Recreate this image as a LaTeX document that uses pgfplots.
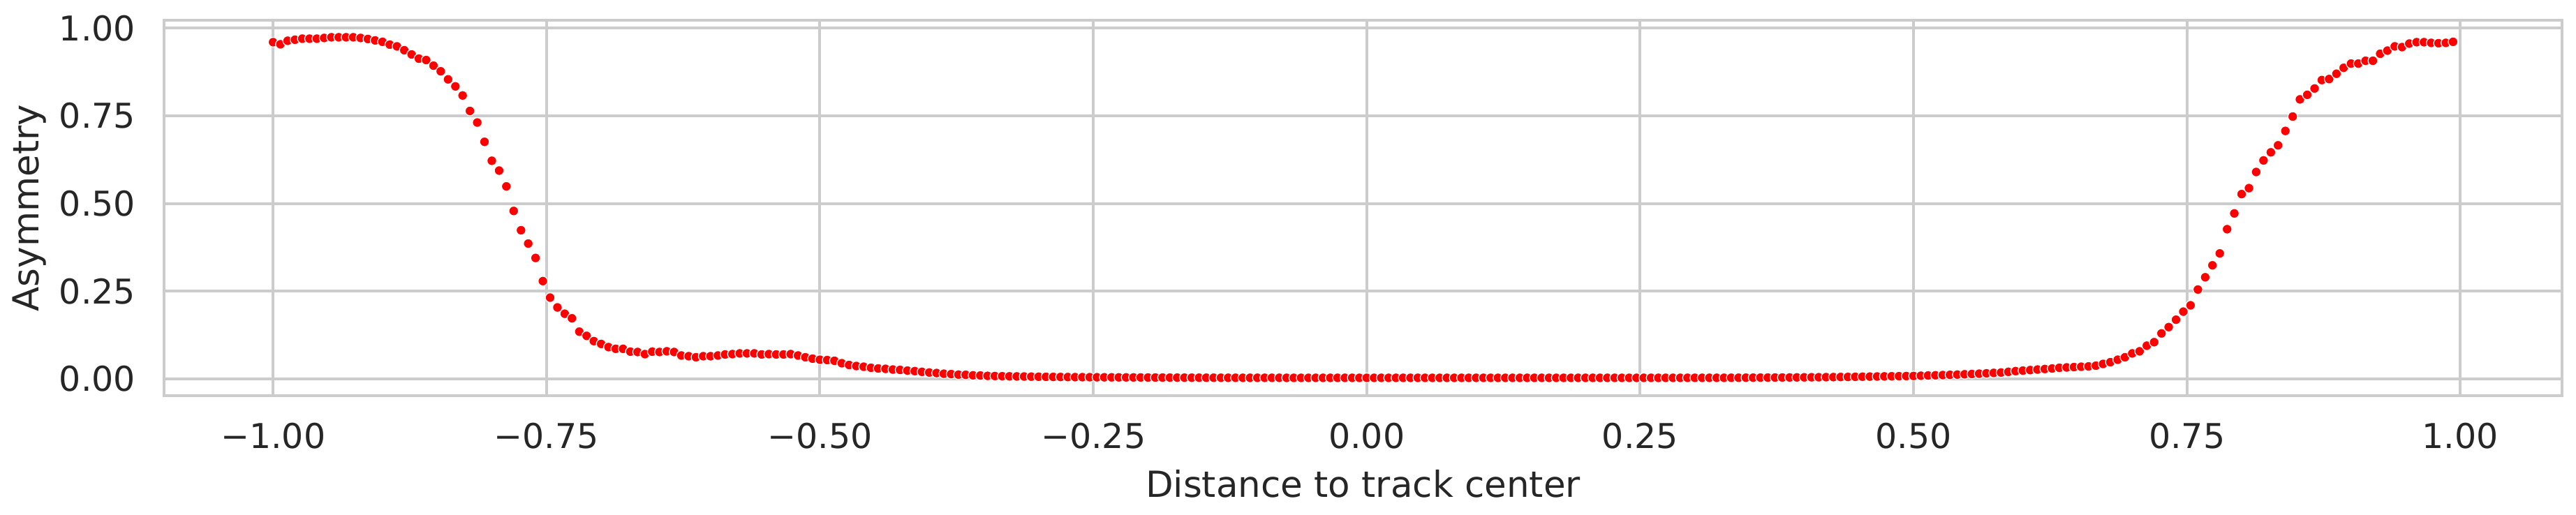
\documentclass[border=0pt]{standalone}
\usepackage{pgfplots}
\pgfplotsset{compat=1.18}
\usetikzlibrary{calc}
\usepackage{fontspec}
\setmainfont{DejaVu Sans}
\definecolor{gridc}{RGB}{204,204,204}
\definecolor{txt}{RGB}{38,38,38}
\begin{document}
\begin{tikzpicture}
\begin{axis}[
  name=ax,
  scale only axis,
  width=687pt, height=107.58pt,
  xmin=-1.0997, xmax=1.0930,
  ymin=-0.0479, ymax=1.0219,
  xtick={-1,-0.75,-0.5,-0.25,0,0.25,0.5,0.75,1},
  xticklabels={−1.00,−0.75,−0.50,−0.25,0.00,0.25,0.50,0.75,1.00},
  ytick={0,0.25,0.5,0.75,1},
  yticklabels={0.00,0.25,0.50,0.75,1.00},
  major tick length=0pt,
  grid=major,
  major grid style={draw=gridc, line width=0.8pt},
  axis line style={draw=gridc, line width=0.8pt},
  tick style={draw=none},
  xticklabel style={font=\fontsize{9.8}{11.8}\selectfont, text=txt, inner sep=0pt, anchor=north, yshift=-7.56pt},
  yticklabel style={font=\fontsize{9.8}{11.8}\selectfont, text=txt, inner sep=0pt, anchor=east, xshift=-8pt},
  xlabel={Distance to track center},
  ylabel={Asymmetry},
  xlabel style={font=\fontsize{10.3}{12.4}\selectfont, text=txt, at={(axis description cs:0.5,-0.271)}, anchor=base, inner sep=0pt},
  ylabel style={font=\fontsize{10.3}{12.4}\selectfont, text=txt, at={(axis description cs:-0.0524,0.5)}, anchor=base, inner sep=0pt},
]
\addplot[only marks, mark=*, mark size=1.38pt, mark options={fill=red, draw=white, line width=0.25pt}] coordinates {
(-1.0000,0.960) (-0.9933,0.954) (-0.9867,0.964)
(-0.9800,0.967) (-0.9733,0.970) (-0.9667,0.970)
(-0.9600,0.970) (-0.9533,0.972) (-0.9467,0.974)
(-0.9400,0.974) (-0.9333,0.974) (-0.9267,0.974)
(-0.9200,0.972) (-0.9133,0.969) (-0.9067,0.965)
(-0.9000,0.961) (-0.8933,0.953) (-0.8867,0.948)
(-0.8800,0.937) (-0.8733,0.925) (-0.8667,0.913)
(-0.8600,0.909) (-0.8533,0.893) (-0.8467,0.877)
(-0.8400,0.854) (-0.8333,0.834) (-0.8267,0.808)
(-0.8200,0.764) (-0.8133,0.731) (-0.8067,0.676)
(-0.8000,0.622) (-0.7933,0.594) (-0.7867,0.549)
(-0.7800,0.479) (-0.7733,0.424) (-0.7667,0.386)
(-0.7600,0.345) (-0.7533,0.279) (-0.7467,0.232)
(-0.7400,0.204) (-0.7333,0.186) (-0.7267,0.173)
(-0.7200,0.135) (-0.7133,0.123) (-0.7067,0.108)
(-0.7000,0.100) (-0.6933,0.091) (-0.6867,0.086)
(-0.6800,0.086) (-0.6733,0.078) (-0.6667,0.077)
(-0.6600,0.071) (-0.6533,0.078) (-0.6467,0.077)
(-0.6400,0.079) (-0.6333,0.077) (-0.6267,0.067)
(-0.6200,0.065) (-0.6133,0.062) (-0.6067,0.065)
(-0.6000,0.065) (-0.5933,0.067) (-0.5867,0.070)
(-0.5800,0.071) (-0.5733,0.073) (-0.5667,0.073)
(-0.5600,0.073) (-0.5533,0.070) (-0.5467,0.071)
(-0.5400,0.070) (-0.5333,0.070) (-0.5267,0.071)
(-0.5200,0.067) (-0.5133,0.062) (-0.5067,0.058)
(-0.5000,0.055) (-0.4933,0.054) (-0.4867,0.052)
(-0.4800,0.045) (-0.4733,0.040) (-0.4667,0.037)
(-0.4600,0.035) (-0.4533,0.032) (-0.4467,0.030)
(-0.4400,0.029) (-0.4333,0.027) (-0.4267,0.026)
(-0.4200,0.024) (-0.4133,0.0225) (-0.4067,0.0205)
(-0.4000,0.0185) (-0.3933,0.017) (-0.3867,0.015)
(-0.3800,0.014) (-0.3733,0.0125) (-0.3667,0.012)
(-0.3600,0.0105) (-0.3533,0.010) (-0.3467,0.009)
(-0.3400,0.0085) (-0.3333,0.008) (-0.3267,0.0077)
(-0.3200,0.0074) (-0.3133,0.0071) (-0.3067,0.0068)
(-0.3000,0.0065) (-0.2933,0.0062) (-0.2867,0.0060)
(-0.2800,0.0058) (-0.2733,0.0056) (-0.2667,0.0054)
(-0.2600,0.0053) (-0.2533,0.0052) (-0.2467,0.0050)
(-0.2400,0.0049) (-0.2333,0.0048) (-0.2267,0.0047)
(-0.2200,0.0046) (-0.2133,0.0045) (-0.2067,0.0044)
(-0.2000,0.0043) (-0.1933,0.0042) (-0.1867,0.0041)
(-0.1800,0.0040) (-0.1733,0.0040) (-0.1667,0.0039)
(-0.1600,0.0038) (-0.1533,0.0038) (-0.1467,0.0037)
(-0.1400,0.0037) (-0.1333,0.0036) (-0.1267,0.0036)
(-0.1200,0.0036) (-0.1133,0.0035) (-0.1067,0.0035)
(-0.1000,0.0035) (-0.0933,0.0035) (-0.0867,0.0035)
(-0.0800,0.0035) (-0.0733,0.0034) (-0.0667,0.0034)
(-0.0600,0.0034) (-0.0533,0.0034) (-0.0467,0.0034)
(-0.0400,0.0034) (-0.0333,0.0034) (-0.0267,0.0034)
(-0.0200,0.0034) (-0.0133,0.0034) (-0.0067,0.0034)
(0.0000,0.0034) (0.0067,0.0034) (0.0133,0.0034)
(0.0200,0.0034) (0.0267,0.0034) (0.0333,0.0034)
(0.0400,0.0034) (0.0467,0.0034) (0.0533,0.0034)
(0.0600,0.0034) (0.0667,0.0034) (0.0733,0.0034)
(0.0800,0.0034) (0.0867,0.0034) (0.0933,0.0034)
(0.1000,0.0034) (0.1067,0.0034) (0.1133,0.0034)
(0.1200,0.0034) (0.1267,0.0034) (0.1333,0.0034)
(0.1400,0.0034) (0.1467,0.0034) (0.1533,0.0034)
(0.1600,0.0034) (0.1667,0.0034) (0.1733,0.0034)
(0.1800,0.0034) (0.1867,0.0034) (0.1933,0.0034)
(0.2000,0.0034) (0.2067,0.0034) (0.2133,0.0034)
(0.2200,0.0034) (0.2267,0.0034) (0.2333,0.0034)
(0.2400,0.0034) (0.2467,0.0034) (0.2533,0.0034)
(0.2600,0.0034) (0.2667,0.0034) (0.2733,0.0034)
(0.2800,0.0034) (0.2867,0.0034) (0.2933,0.0035)
(0.3000,0.0035) (0.3067,0.0035) (0.3133,0.0035)
(0.3200,0.0035) (0.3267,0.0035) (0.3333,0.0036)
(0.3400,0.0037) (0.3467,0.0038) (0.3533,0.0039)
(0.3600,0.0040) (0.3667,0.0041) (0.3733,0.0042)
(0.3800,0.0043) (0.3867,0.0044) (0.3933,0.0046)
(0.4000,0.0048) (0.4067,0.0050) (0.4133,0.0051)
(0.4200,0.0053) (0.4267,0.0055) (0.4333,0.0058)
(0.4400,0.0060) (0.4467,0.0063) (0.4533,0.0066)
(0.4600,0.0069) (0.4667,0.0072) (0.4733,0.0075)
(0.4800,0.0078) (0.4867,0.0081) (0.4933,0.0084)
(0.5000,0.0087) (0.5067,0.0093) (0.5133,0.0100)
(0.5200,0.0106) (0.5267,0.0113) (0.5333,0.0120)
(0.5400,0.0126) (0.5467,0.0135) (0.5533,0.0143)
(0.5600,0.0152) (0.5667,0.0163) (0.5733,0.0174)
(0.5800,0.0185) (0.5867,0.0205) (0.5933,0.0225)
(0.6000,0.0240) (0.6067,0.0255) (0.6133,0.0270)
(0.6200,0.0285) (0.6267,0.0300) (0.6333,0.0320)
(0.6400,0.0330) (0.6467,0.0340) (0.6533,0.0350)
(0.6600,0.0360) (0.6667,0.0380) (0.6733,0.0430)
(0.6800,0.0480) (0.6867,0.0550) (0.6933,0.0620)
(0.7000,0.0730) (0.7067,0.0790) (0.7133,0.0950)
(0.7200,0.1050) (0.7267,0.1300) (0.7333,0.1480)
(0.7400,0.169) (0.7467,0.192) (0.7533,0.210)
(0.7600,0.255) (0.7667,0.290) (0.7733,0.324)
(0.7800,0.358) (0.7867,0.427) (0.7933,0.472)
(0.8000,0.527) (0.8067,0.544) (0.8133,0.590)
(0.8200,0.623) (0.8267,0.646) (0.8333,0.666)
(0.8400,0.707) (0.8467,0.748) (0.8533,0.797)
(0.8600,0.810) (0.8667,0.828) (0.8733,0.852)
(0.8800,0.855) (0.8867,0.870) (0.8933,0.887)
(0.9000,0.899) (0.9067,0.899) (0.9133,0.907)
(0.9200,0.907) (0.9267,0.927) (0.9333,0.936)
(0.9400,0.948) (0.9467,0.946) (0.9533,0.956)
(0.9600,0.960) (0.9667,0.960) (0.9733,0.958)
(0.9800,0.957) (0.9867,0.958) (0.9933,0.961)
};
\end{axis}
\path ($(ax.south west)+(-47pt,-33.96pt)$) rectangle ($(ax.north east)+(4pt,5.86pt)$);
\end{tikzpicture}
\end{document}
